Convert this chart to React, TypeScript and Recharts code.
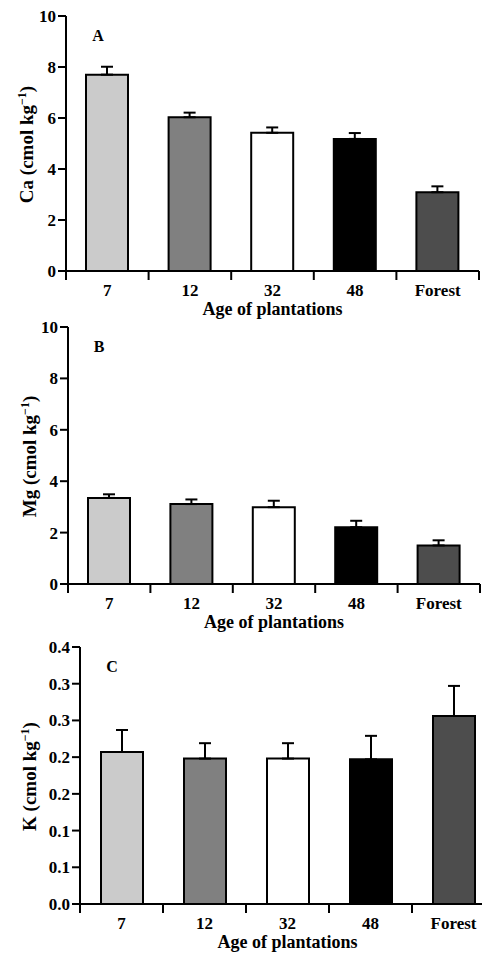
import React from 'react';
import { BarChart, Bar, XAxis, YAxis, ErrorBar, Cell, Label } from 'recharts';

const categories = ['7', '12', '32', '48', 'Forest'];
const barColors = ['#cbcbcb', '#808080', '#ffffff', '#000000', '#4d4d4d'];

const caMean = [7.7, 6.03, 5.42, 5.18, 3.09];
const caErr = [0.31, 0.18, 0.21, 0.23, 0.23];
const mgMean = [3.35, 3.11, 2.99, 2.21, 1.5];
const mgErr = [0.14, 0.18, 0.25, 0.25, 0.2];
const kMean = [0.207, 0.198, 0.198, 0.197, 0.256];
const kErr = [0.03, 0.021, 0.021, 0.032, 0.041];

const tenTicks = [0, 2, 4, 6, 8, 10];
const tenTickLabels = ['0', '2', '4', '6', '8', '10'];
const kTicks = [0, 0.05, 0.1, 0.15, 0.2, 0.25, 0.3, 0.35];
const kTickLabels = ['0.0', '0.1', '0.1', '0.2', '0.2', '0.3', '0.3', '0.4'];

const xTitle = 'Age of plantations';
const FONT = "'Liberation Serif', 'Times New Roman', serif";
const MARGIN_TOP = 16;
const PANEL_H = 323;

type PanelProps = {
  top: number;
  width: number;
  yAxisWidth: number;
  plotH: number;
  marginRight: number;
  domain: [number, number];
  ticks: number[];
  tickLabels: string[];
  mean: number[];
  err: number[];
  yLabelMain: string;
  yLabelX: number;
  letter: string;
  letterX: number;
  letterY: number;
};

function Panel(p: PanelProps) {
  const data = categories.map((c, i) => ({
    cat: c,
    value: p.mean[i],
    err: [0, p.err[i]],
  }));
  const plotW = p.width - p.yAxisWidth - p.marginRight;
  const half = plotW / categories.length / 2;
  const axisY = MARGIN_TOP + p.plotH;
  const xAxisH = PANEL_H - MARGIN_TOP - p.plotH;
  const plotCx = p.yAxisWidth + plotW / 2;
  const plotCy = MARGIN_TOP + p.plotH / 2 + 1;

  const renderXTick = (tp: any) => {
    const { x, payload, index } = tp;
    const off = half;
    return (
      <g>
        <line x1={x - off} x2={x - off} y1={axisY} y2={axisY + 9} stroke="#000" strokeWidth={2} />
        {index === categories.length - 1 && (
          <line x1={x + off} x2={x + off} y1={axisY} y2={axisY + 9} stroke="#000" strokeWidth={2} />
        )}
        <text x={x} y={axisY + 25} textAnchor="middle" fontFamily={FONT} fontWeight="bold" fontSize={17} fill="#000">
          {payload.value}
        </text>
      </g>
    );
  };

  return (
    <div style={{ position: 'absolute', left: 0, top: p.top, width: p.width, height: PANEL_H }}>
      <BarChart
        width={p.width}
        height={PANEL_H}
        data={data}
        margin={{ top: MARGIN_TOP, right: p.marginRight, left: 0, bottom: 0 }}
        barSize={42}
      >
        <XAxis
          dataKey="cat"
          height={xAxisH}
          tickLine={false}
          tickSize={9}
          tickMargin={2}
          interval={0}
          axisLine={{ stroke: '#000', strokeWidth: 2 }}
          tick={renderXTick}
        >
          <Label
            content={() => (
              <text x={plotCx} y={axisY + 44} textAnchor="middle" fontFamily={FONT} fontWeight="bold" fontSize={18} fill="#000">
                {xTitle}
              </text>
            )}
          />
        </XAxis>
        <YAxis
          width={p.yAxisWidth}
          domain={p.domain}
          ticks={p.ticks}
          interval={0}
          tickSize={8}
          tickMargin={2}
          tickLine={{ stroke: '#000', strokeWidth: 2 }}
          axisLine={{ stroke: '#000', strokeWidth: 2 }}
          tick={{ fill: '#000', fontFamily: FONT, fontWeight: 'bold', fontSize: 17 }}
          tickFormatter={(v: number) => {
            const i = p.ticks.indexOf(v);
            return i >= 0 ? p.tickLabels[i] : String(v);
          }}
        >
          <Label
            content={() => (
              <text
                x={p.yLabelX}
                y={plotCy}
                transform={`rotate(-90 ${p.yLabelX} ${plotCy})`}
                textAnchor="middle"
                fontFamily={FONT}
                fontWeight="bold"
                fontSize={19}
                fill="#000"
              >
                {p.yLabelMain}
                <tspan dy={-7} fontSize={12}>−1</tspan>
                <tspan dy={7}>)</tspan>
              </text>
            )}
          />
        </YAxis>
        <Bar dataKey="value" stroke="#000" strokeWidth={2} isAnimationActive={false}>
          {data.map((d, i) => (
            <Cell key={d.cat} fill={barColors[i]} />
          ))}
          <ErrorBar dataKey="err" width={6} strokeWidth={2} stroke="#000" direction="y" isAnimationActive={false} />
        </Bar>
      </BarChart>
      <svg style={{ position: 'absolute', left: 0, top: 0, pointerEvents: 'none' }} width={p.width} height={60}>
        <text x={p.letterX} y={p.letterY} textAnchor="middle" fontFamily={FONT} fontWeight="bold" fontSize={16} fill="#000">
          {p.letter}
        </text>
      </svg>
    </div>
  );
}

export default function App() {
  return (
    <div
      style={{
        position: 'absolute',
        left: 0,
        top: 0,
        width: 482,
        height: 954,
        overflow: 'hidden',
        background: '#fff',
      }}
    >
      <Panel
        top={0}
        width={482}
        yAxisWidth={66}
        plotH={255}
        marginRight={3}
        domain={[0, 10]}
        ticks={tenTicks}
        tickLabels={tenTickLabels}
        mean={caMean}
        err={caErr}
        yLabelMain="Ca (cmol kg"
        yLabelX={33}
        letter="A"
        letterX={98}
        letterY={41}
      />
      <Panel
        top={311}
        width={482}
        yAxisWidth={68}
        plotH={257}
        marginRight={2}
        domain={[0, 10]}
        ticks={tenTicks}
        tickLabels={tenTickLabels}
        mean={mgMean}
        err={mgErr}
        yLabelMain="Mg (cmol kg"
        yLabelX={36}
        letter="B"
        letterX={99}
        letterY={41}
      />
      <Panel
        top={631}
        width={497}
        yAxisWidth={80}
        plotH={257}
        marginRight={2}
        domain={[0, 0.35]}
        ticks={kTicks}
        tickLabels={kTickLabels}
        mean={kMean}
        err={kErr}
        yLabelMain="K (cmol kg"
        yLabelX={36}
        letter="C"
        letterX={112}
        letterY={41}
      />
    </div>
  );
}
